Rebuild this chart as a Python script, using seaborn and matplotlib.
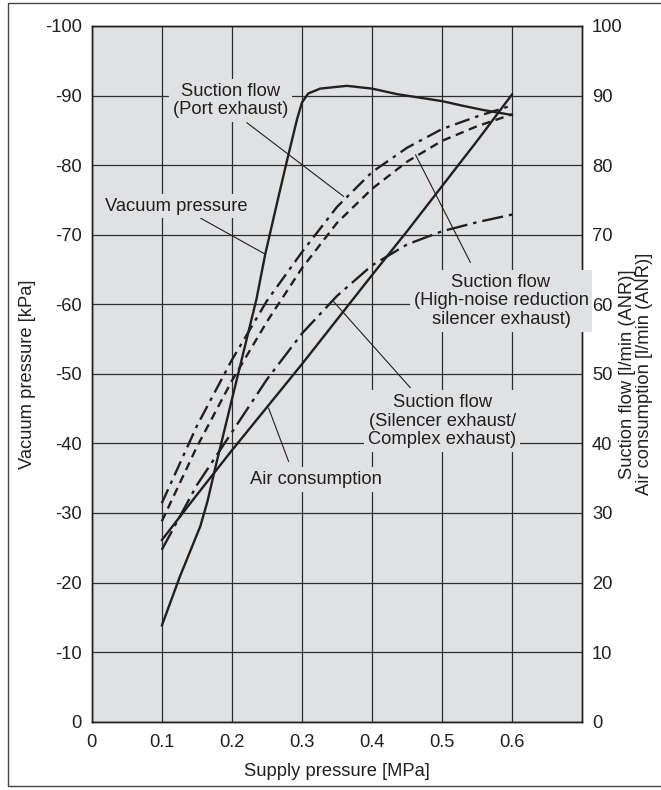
import matplotlib
matplotlib.use("Agg")
import matplotlib.pyplot as plt
import seaborn as sns
import pandas as pd
from matplotlib.patches import Rectangle

# ---------------- data ----------------
supply_vac = [0.10, 0.126, 0.155, 0.165, 0.178, 0.20, 0.235, 0.2476, 0.265, 0.279, 0.293, 0.300,
              0.309, 0.326, 0.364, 0.40, 0.436, 0.50, 0.531, 0.56, 0.60]
vacuum_kpa = [-13.8, -20.9, -28.1, -31.6, -37.2, -46.3, -60.7, -67.2, -74.8, -80.8, -86.6, -89.0,
              -90.3, -91.0, -91.4, -91.0, -90.2, -89.2, -88.5, -87.9, -87.2]

supply = [0.10, 0.15, 0.20, 0.25, 0.30, 0.35, 0.40, 0.45, 0.50, 0.55, 0.60]
flow_port = [31.4, 42.5, 52.0, 60.5, 67.5, 74.0, 79.0, 82.5, 85.2, 87.0, 88.6]
flow_high_noise = [28.8, 39.5, 49.0, 57.5, 65.2, 71.7, 76.6, 80.5, 83.5, 85.6, 87.3]
flow_silencer = [24.7, 34.0, 41.6, 49.2, 55.8, 61.2, 65.6, 68.6, 70.5, 71.8, 72.9]
air_consumption = [26.1, 32.6, 39.0, 45.2, 51.4, 57.8, 64.2, 70.5, 77.0, 83.5, 90.2]

x_ticks = [0, 0.1, 0.2, 0.3, 0.4, 0.5, 0.6]
x_tick_labels = ["0", "0.1", "0.2", "0.3", "0.4", "0.5", "0.6"]
left_ticks = [0, -10, -20, -30, -40, -50, -60, -70, -80, -90, -100]
right_ticks = [0, 10, 20, 30, 40, 50, 60, 70, 80, 90, 100]

# ---------------- style ----------------
sns.set_theme(style="white")
plt.rcParams["font.family"] = ["Liberation Sans", "DejaVu Sans"]
INK = "#231f20"
BG = "#e0e1e3"
FS = 13.2

fig = plt.figure(figsize=(6.61, 7.90), dpi=100)
fig.patch.set_facecolor("white")
fig.patches.append(Rectangle((8 / 661, 1 - 786 / 790), (700 - 8) / 661, (786 - 3) / 790,
                             transform=fig.transFigure, fill=False, ec="#444444", lw=1.0))

ax = fig.add_axes([91.7 / 661, 1 - 721.7 / 790, (582.3 - 91.7) / 661, (721.7 - 26) / 790])
ax.set_facecolor(BG)
ax2 = ax.twinx()

ax.set_xlim(0, 0.7)
ax.set_ylim(0, -100)
ax2.set_ylim(0, 100)

ax.set_xticks(x_ticks)
ax.set_xticklabels(x_tick_labels)
ax.set_yticks(left_ticks)
ax.set_yticklabels([str(t) for t in left_ticks])
ax2.set_yticks(right_ticks)
ax2.set_yticklabels([str(t) for t in right_ticks])

for a in (ax, ax2):
    a.tick_params(length=0, pad=7, labelsize=FS, labelcolor=INK)
    for s in a.spines.values():
        s.set_color(INK)
        s.set_linewidth(1.0)
ax.tick_params(axis="x", pad=9)

ax.grid(True, color="#2e2e2e", lw=0.9)
ax.set_axisbelow(True)

# ---------------- curves ----------------
LW = 1.7
df_vac = pd.DataFrame({"x": supply_vac, "y": vacuum_kpa})
sns.lineplot(data=df_vac, x="x", y="y", ax=ax, color=INK, lw=LW, errorbar=None)

series = [
    (flow_port, (0, (6.5, 2.5, 1.5, 2.5))),
    (flow_high_noise, (0, (3.6, 2.4))),
    (flow_silencer, (0, (9.0, 2.5, 1.5, 2.5))),
    (air_consumption, "-"),
]
for vals, ls in series:
    d = pd.DataFrame({"x": supply, "y": vals})
    sns.lineplot(data=d, x="x", y="y", ax=ax2, color=INK, lw=LW, errorbar=None)
    ax2.lines[-1].set_linestyle(ls)
    ax2.lines[-1].set_dash_capstyle("butt")

ax.set_xlabel("")
ax.set_ylabel("")
ax2.set_ylabel("")

# ---------------- axis labels ----------------
ax.set_xlabel("Supply pressure [MPa]", fontsize=FS, color=INK)
ax.xaxis.set_label_coords(0.5, -0.060)
ax.set_ylabel("Vacuum pressure [kPa]", fontsize=FS, color=INK)
ax.yaxis.set_label_coords(-0.113, 0.5)
ax2.set_ylabel("Suction flow [l/min (ANR)]\nAir consumption [l/min (ANR)]",
               fontsize=FS, color=INK, linespacing=1.05)
ax2.yaxis.set_label_coords(1.074, 0.5)

# ---------------- annotations ----------------
box = dict(boxstyle="square,pad=0.2", fc=BG, ec="none")
leader = dict(color=INK, lw=0.8)

def label(x, y, s):
    ax2.text(x, y, s, ha="center", va="center", fontsize=FS, color=INK,
             linespacing=1.12, bbox=box, zorder=6, clip_on=False)

def lead(x0, y0, x1, y1):
    ax2.plot([x0, x1], [y0, y1], zorder=5, **leader)

label(0.1976, 89.3, "Suction flow\n(Port exhaust)")
lead(0.2214, 86.1, 0.3595, 75.5)

label(0.1214, 74.1, "Vacuum pressure")
lead(0.155, 72.4, 0.2476, 67.2)

label(0.584, 60.5, "Suction flow\n(High-noise reduction\nsilencer exhaust)")
lead(0.5404, 66.0, 0.462, 81.5)

label(0.50, 43.2, "Suction flow\n(Silencer exhaust/\nComplex exhaust)")
lead(0.4547, 48.0, 0.345, 60.4)

label(0.32, 34.8, "Air consumption")
lead(0.281, 37.4, 0.2523, 45.1)

fig.savefig("out.png", dpi=100, facecolor="white")
